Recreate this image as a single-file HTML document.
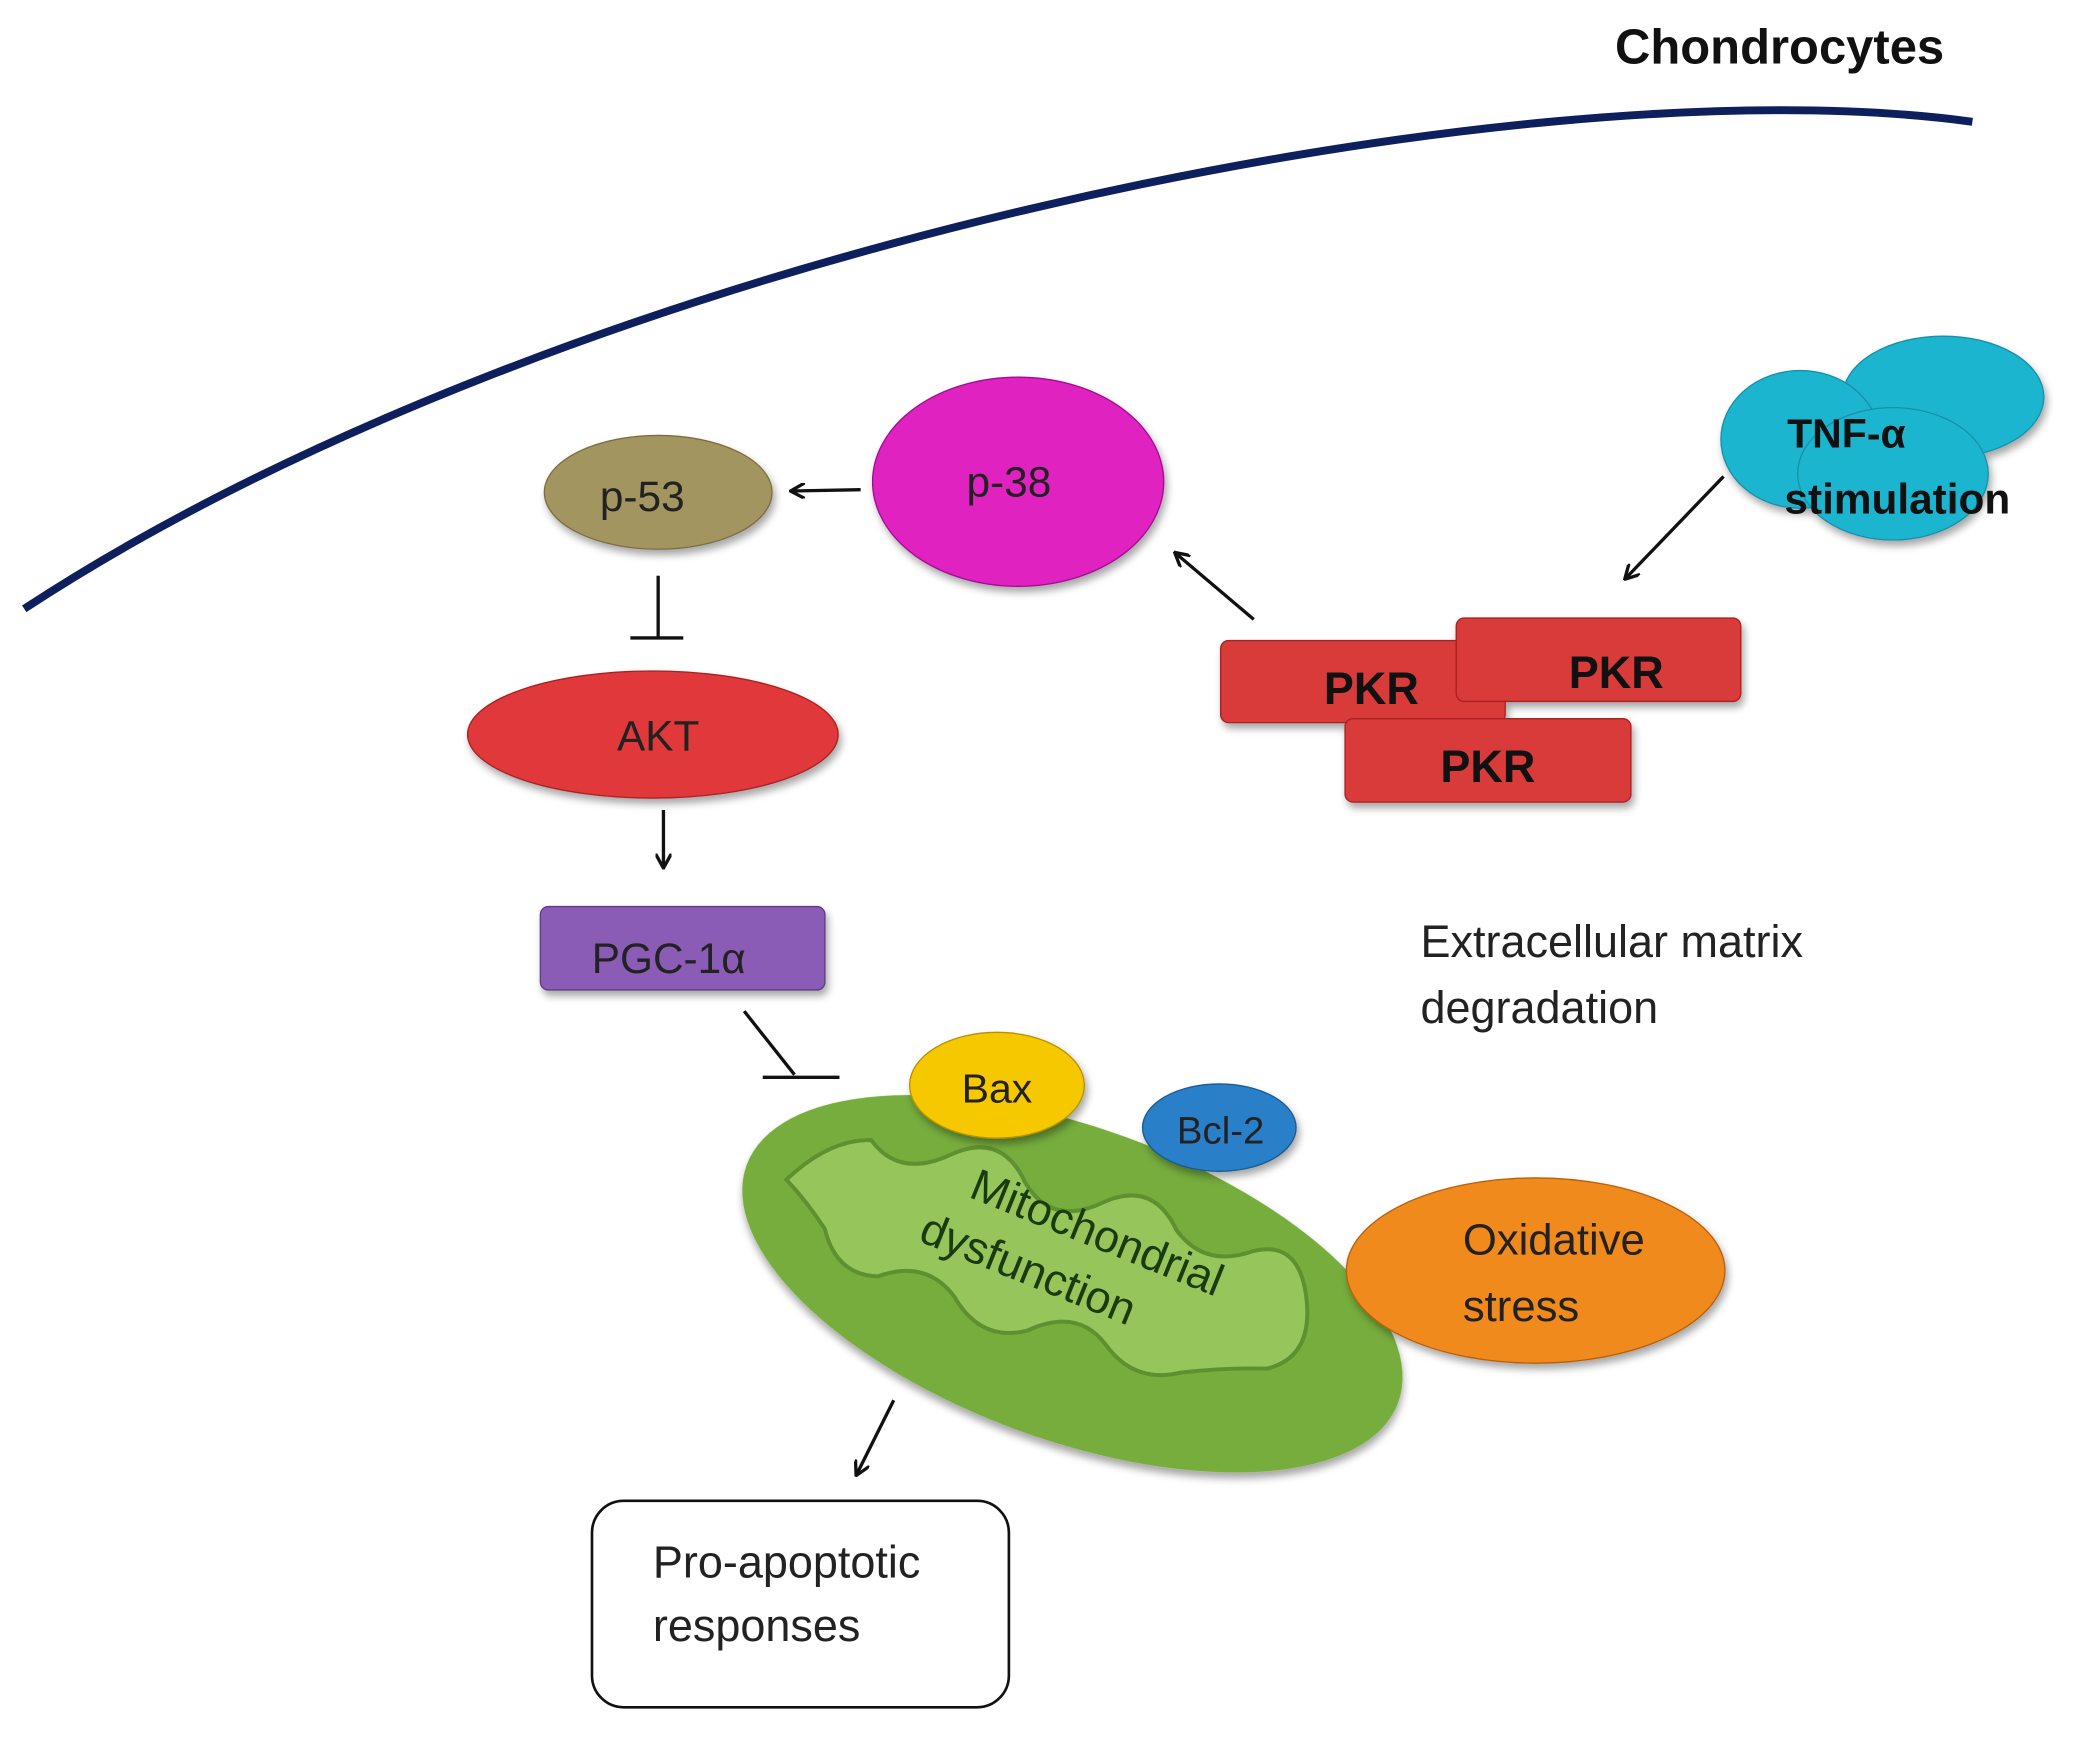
<!DOCTYPE html>
<html><head><meta charset="utf-8"><style>html,body{margin:0;padding:0;background:#fff}svg{display:block}</style></head>
<body>
<svg width="2076" height="1747" viewBox="0 0 1568 1320" xmlns="http://www.w3.org/2000/svg" font-family="Liberation Sans, sans-serif">
<defs>
<marker id="ah" markerWidth="12" markerHeight="12" refX="10" refY="6" orient="auto" markerUnits="userSpaceOnUse"><path d="M0,0 L11,6 L0,12" fill="none" stroke="#111" stroke-width="2.5"/></marker>
<filter id="sh" x="-20%" y="-20%" width="140%" height="150%"><feDropShadow dx="2" dy="4" stdDeviation="3" flood-opacity="0.35"/></filter>
</defs>
<path d="M18,460 C 430,190 1150,45 1490,92" fill="none" stroke="#0d1f5c" stroke-width="6"/>
<text x="1220" y="48" font-size="37" font-weight="bold" fill="#111">Chondrocytes</text>

<g filter="url(#sh)" fill="#1eb5d0" stroke="#1890a8" stroke-width="1">
<ellipse cx="1468" cy="300" rx="76" ry="46"/>
<ellipse cx="1360" cy="332" rx="60" ry="52"/>
<ellipse cx="1430" cy="358" rx="72" ry="50"/>
</g>
<text x="1350" y="338" font-size="31" font-weight="bold" fill="#111">TNF-α</text>
<text x="1348" y="388" font-size="32" font-weight="bold" fill="#111">stimulation</text>
<line x1="1302" y1="360" x2="1228" y2="437" stroke="#111" stroke-width="2.5" marker-end="url(#ah)"/>

<g filter="url(#sh)" fill="#d93a3a" stroke="#a82020" stroke-width="1">
<rect x="922" y="484" width="215" height="62" rx="6"/>
<rect x="1100" y="467" width="215" height="63" rx="6"/>
<rect x="1016" y="543" width="216" height="63" rx="6"/>
</g>
<text x="1000" y="532" font-size="34" font-weight="bold" fill="#111">PKR</text>
<text x="1185" y="520" font-size="34" font-weight="bold" fill="#111">PKR</text>
<text x="1088" y="591" font-size="34" font-weight="bold" fill="#111">PKR</text>
<line x1="947" y1="468" x2="888" y2="418" stroke="#111" stroke-width="2.5" marker-end="url(#ah)"/>

<ellipse cx="769" cy="364" rx="110" ry="79" fill="#e020c0" stroke="#a01090" filter="url(#sh)"/>
<text x="762" y="375" font-size="32" text-anchor="middle" fill="#222">p-38</text>
<line x1="650" y1="370" x2="598" y2="371" stroke="#111" stroke-width="2.5" marker-end="url(#ah)"/>

<ellipse cx="497" cy="372" rx="86" ry="43" fill="#a3955e" stroke="#7a6e40" filter="url(#sh)"/>
<text x="485" y="386" font-size="32" text-anchor="middle" fill="#222">p-53</text>
<line x1="497" y1="435" x2="497" y2="482" stroke="#111" stroke-width="2.5"/>
<line x1="476" y1="482" x2="516" y2="482" stroke="#111" stroke-width="2.5"/>

<ellipse cx="493" cy="555" rx="140" ry="48" fill="#e0393a" stroke="#a82020" filter="url(#sh)"/>
<text x="497" y="567" font-size="32" text-anchor="middle" fill="#222">AKT</text>
<line x1="501" y1="612" x2="501" y2="655" stroke="#111" stroke-width="2.5" marker-end="url(#ah)"/>

<rect x="408" y="685" width="215" height="63" rx="6" fill="#8b5bb5" stroke="#5e3a85" filter="url(#sh)"/>
<text x="505" y="735" font-size="32" text-anchor="middle" fill="#222">PGC-1α</text>
<line x1="562" y1="764" x2="600" y2="812" stroke="#111" stroke-width="2.5"/>
<line x1="576" y1="814" x2="634" y2="814" stroke="#111" stroke-width="2.5"/>

<g transform="rotate(20 810 970)">
<ellipse cx="810" cy="970" rx="262" ry="118" fill="#76ad3c" filter="url(#sh)"/>
<path d="M580,970 q20,-40 50,-50 q30,20 60,-10 q30,-30 60,0 q30,25 60,-5 q30,-30 60,0 q30,20 60,-5 q30,-20 50,20 q20,40 -10,60 q-30,10 -60,25 q-30,20 -60,0 q-30,-20 -60,10 q-30,20 -60,-5 q-30,-20 -60,5 q-30,10 -50,-20 q-20,-15 -40,-25 z" fill="#96c55c" stroke="#5f9030" stroke-width="3"/>
</g>
<g transform="rotate(22 830 955)" font-size="34" fill="#1a3a10">
<text x="820" y="945" text-anchor="middle">Mitochondrial</text>
<text x="782" y="990" text-anchor="middle">dysfunction</text>
</g>

<ellipse cx="753" cy="820" rx="66" ry="40" fill="#f5c800" stroke="#b89000" filter="url(#sh)"/>
<text x="753" y="833" font-size="31" text-anchor="middle" fill="#222">Bax</text>
<ellipse cx="921" cy="852" rx="58" ry="33" fill="#2a7fc9" stroke="#1a5a90" filter="url(#sh)"/>
<text x="922" y="864" font-size="29" text-anchor="middle" fill="#222">Bcl-2</text>

<ellipse cx="1160" cy="960" rx="143" ry="70" fill="#f08a1a" stroke="#b86008" filter="url(#sh)"/>
<text x="1105" y="948" font-size="33" fill="#222">Oxidative</text>
<text x="1105" y="998" font-size="33" fill="#222">stress</text>

<text x="1073" y="723" font-size="34" fill="#222">Extracellular matrix</text>
<text x="1073" y="773" font-size="34" fill="#222">degradation</text>

<line x1="675" y1="1058" x2="647" y2="1114" stroke="#111" stroke-width="2.5" marker-end="url(#ah)"/>
<rect x="447" y="1134" width="315" height="156" rx="24" fill="#fff" stroke="#111" stroke-width="2"/>
<text x="493" y="1192" font-size="34" fill="#222">Pro-apoptotic</text>
<text x="493" y="1240" font-size="34" fill="#222">responses</text>
</svg>
</body></html>
